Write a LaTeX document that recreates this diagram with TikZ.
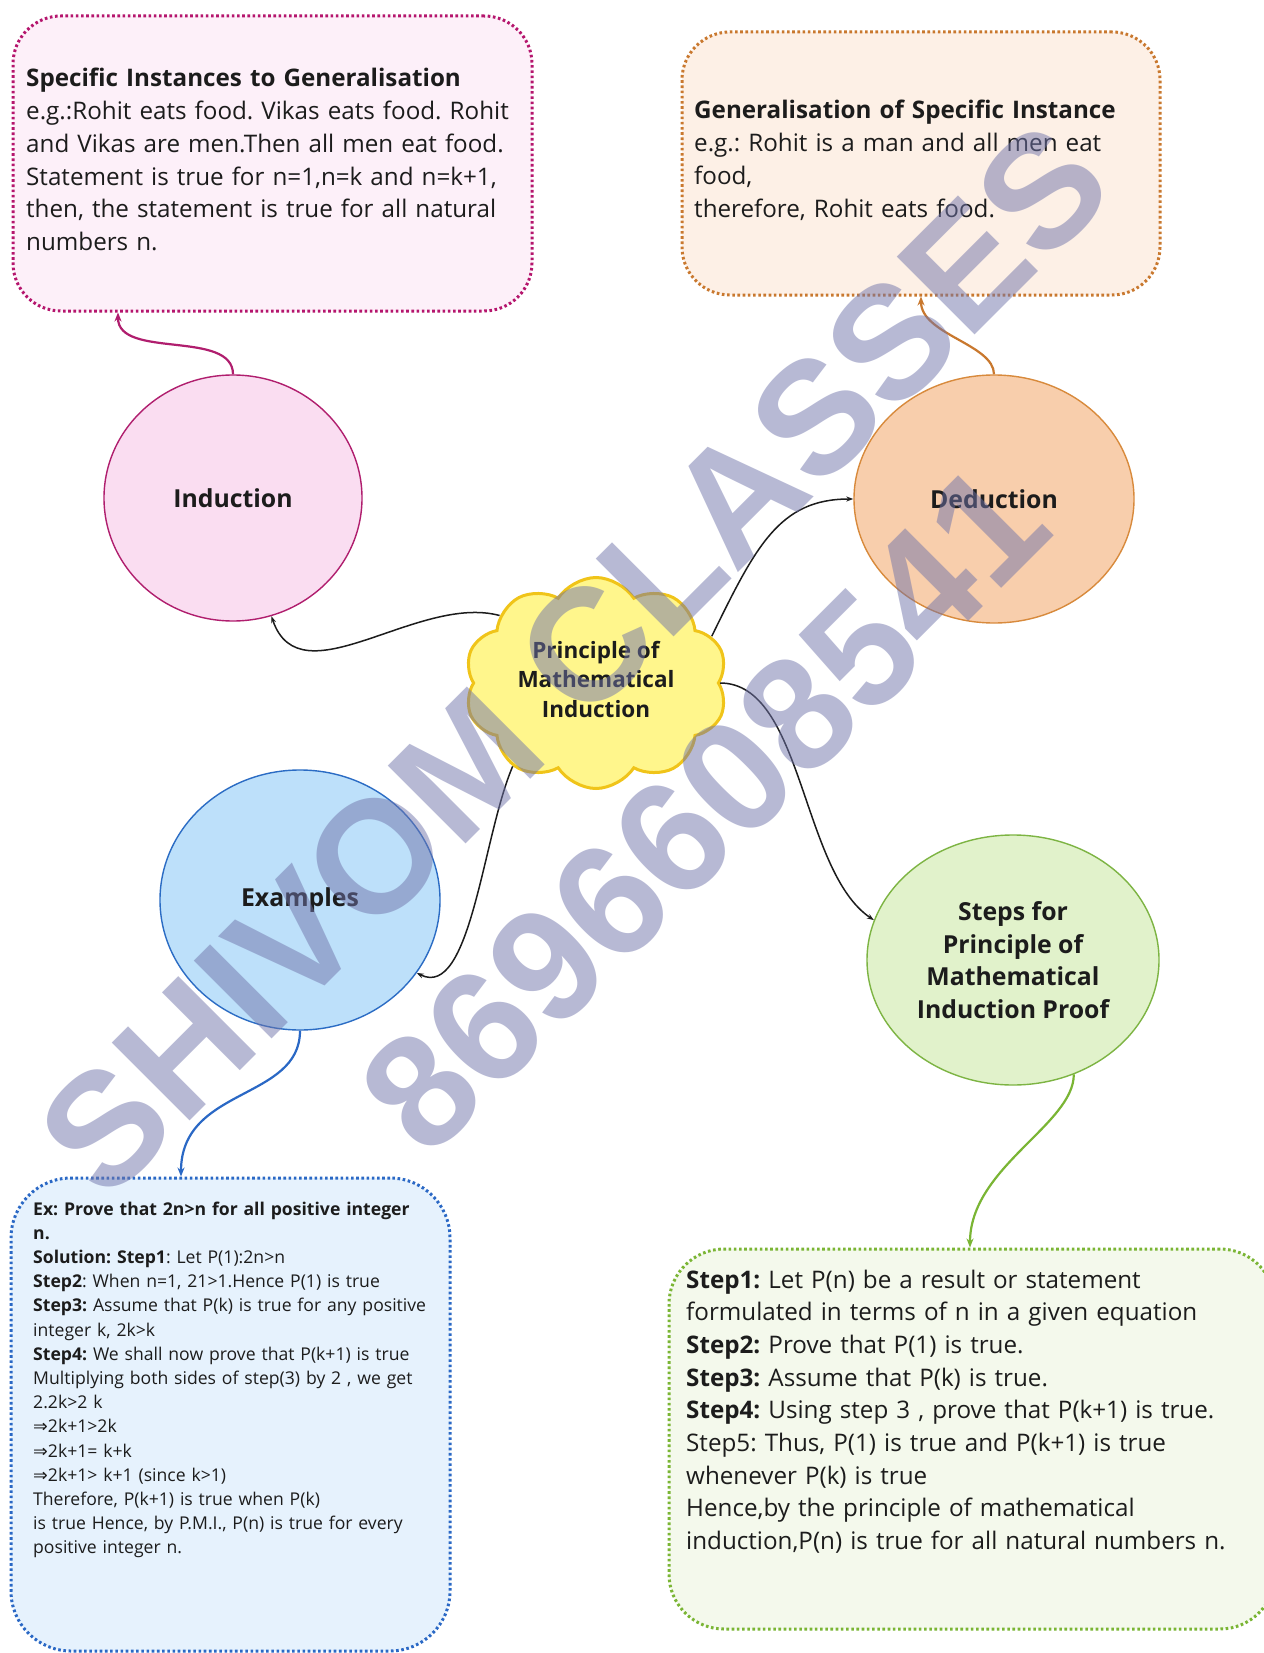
\documentclass[tikz,border=0pt]{standalone}
\usepackage{fontspec}
\setmainfont{Open Sans}
\newfontfamily\wmfont{Liberation Sans}
\newfontfamily\symfont{DejaVu Sans}
\frenchspacing
\usetikzlibrary{shapes.geometric,shapes.symbols,arrows.meta}
\definecolor{ink}{HTML}{1C1C1C}
\definecolor{pinkfill}{HTML}{FDF0F9}
\definecolor{pinkline}{HTML}{B5156D}
\definecolor{indfill}{HTML}{FADDF1}
\definecolor{indline}{HTML}{B01E6E}
\definecolor{orfill}{HTML}{FDF0E6}
\definecolor{orline}{HTML}{C9782E}
\definecolor{dedfill}{HTML}{F8CEAC}
\definecolor{dedline}{HTML}{D88A3C}
\definecolor{cloudfill}{HTML}{FFF68C}
\definecolor{cloudline}{HTML}{F0C419}
\definecolor{exfill}{HTML}{BDE0FA}
\definecolor{exline}{HTML}{2B6CC4}
\definecolor{bluefill}{HTML}{E6F2FD}
\definecolor{blueline}{HTML}{2A68C5}
\definecolor{stfill}{HTML}{E1F2CB}
\definecolor{stline}{HTML}{7DB443}
\definecolor{grfill}{HTML}{F4F9EC}
\definecolor{grline}{HTML}{7AB534}
\definecolor{wmcol}{RGB}{112,116,170}
\begin{document}
\begin{tikzpicture}[x=1pt,y=-1pt,
  dotbox/.style={draw, rectangle, rounded corners=48pt, line width=3pt,
    dash pattern=on 2.6pt off 2.6pt, inner sep=0pt},
  bubble/.style={ellipse, draw, line width=1.4pt, inner sep=0pt, align=center,
    text=ink, font={\bfseries\fontsize{24.8}{32.7}\selectfont}},
  bigtxt/.style={anchor=base west, align=left, text width=620pt, inner sep=0pt,
    text=ink, font={\fontsize{24.2}{32.7}\selectfont}},
  smalltxt/.style={anchor=base west, align=left, text width=440pt, inner sep=0pt,
    text=ink, font={\fontsize{17.6}{24.2}\selectfont}},
  conn/.style={line width=2.2pt, -{Stealth[length=9pt,width=7pt]}},
  bconn/.style={line width=1.5pt, draw=ink, -{Stealth[length=7pt,width=5pt]}},
  wmark/.style={rotate=45, text=wmcol, opacity=0.5, inner sep=0pt,
    font={\wmfont\bfseries\fontsize{160}{160}\selectfont}}
]
\fill[white] (0,0) rectangle (1263,1653);
\useasboundingbox (0,0) rectangle (1263,1653);

% boxes
\node[dotbox, fill=pinkfill, draw=pinkline, minimum width=519pt, minimum height=295pt] (pbox) at (272.5,163.5) {};
\node[dotbox, fill=orfill, draw=orline, minimum width=478pt, minimum height=263pt] (obox) at (921,163.5) {};
\node[dotbox, fill=bluefill, draw=blueline, rounded corners=60pt, minimum width=439pt, minimum height=473pt] (bbox) at (230.5,1414.5) {};
\node[dotbox, fill=grfill, draw=grline, rounded corners=55pt, minimum width=606pt, minimum height=380pt] (gbox) at (972,1439) {};

% box texts
\node[bigtxt] (ptext) at (26,87) {\textbf{Specific Instances to Generalisation}\\
e.g.:Rohit eats food. Vikas eats food. Rohit\\
and Vikas are men.Then all men eat food.\\
Statement is true for n=1,n=k and n=k+1,\\
then, the statement is true for all natural\\
numbers n.};
\node[bigtxt] (otext) at (694,119) {\textbf{Generalisation of Specific Instance}\\
e.g.: Rohit is a man and all men eat\\
food,\\
therefore, Rohit eats food.};
\node[smalltxt] (btext) at (33,1215) {\textbf{Ex: Prove that 2n>n for all positive integer}\\
\textbf{n.}\\
\textbf{Solution: Step1}: Let P(1):2n>n\\
\textbf{Step2}: When n=1, 21>1.Hence P(1) is true\\
\textbf{Step3:} Assume that P(k) is true for any positive\\
integer k, 2k>k\\
\textbf{Step4:} We shall now prove that P(k+1) is true\\
Multiplying both sides of step(3) by 2 , we get\\
2.2k>2 k\\
{\symfont ⇒}2k+1>2k\\
{\symfont ⇒}2k+1= k+k\\
{\symfont ⇒}2k+1> k+1 (since k>1)\\
Therefore, P(k+1) is true when P(k)\\
is true Hence, by P.M.I., P(n) is true for every\\
positive integer n.};
\node[bigtxt] (gtext) at (686,1288) {\textbf{Step1:} Let P(n) be a result or statement\\
formulated in terms of n in a given equation\\
\textbf{Step2:} Prove that P(1) is true.\\
\textbf{Step3:} Assume that P(k) is true.\\
\textbf{Step4:} Using step 3 , prove that P(k+1) is true.\\
Step5: Thus, P(1) is true and P(k+1) is true\\
whenever P(k) is true\\
Hence,by the principle of mathematical\\
induction,P(n) is true for all natural numbers n.};

% bubbles
\node[bubble, fill=indfill, draw=indline, minimum width=258pt, minimum height=246pt] (ind) at (233,498) {Induction};
\node[bubble, fill=dedfill, draw=dedline, minimum width=280pt, minimum height=248pt] (ded) at (994,499) {Deduction};
\node[bubble, fill=exfill, draw=exline, minimum width=280pt, minimum height=260pt] (ex) at (300,900) {Examples};
\node[bubble, fill=stfill, draw=stline, minimum width=292pt, minimum height=250pt] (steps) at (1013,960) {Steps for\\Principle of\\Mathematical\\Induction Proof};
\node[cloud, cloud puffs=10, cloud puff arc=115, aspect=1.25, draw=cloudline, fill=cloudfill,
  line width=3pt, inner sep=0pt, minimum width=263pt, minimum height=211pt] (pmi) at (596,683) {};
\node[align=center, inner sep=0pt, text=ink, font={\bfseries\fontsize{22.5}{29.5}\selectfont}] (pmitext) at (596,679) {Principle of\\Mathematical\\Induction};

% connectors
\draw[conn, draw=indline] (ind.north) .. controls +(0,-45) and +(0,47) .. ([xshift=-154.5pt]pbox.south);
\draw[conn, draw=orline] (ded.north) .. controls +(0,-30) and +(0,38) .. (obox.south);
\draw[conn, draw=blueline] (ex.south) .. controls +(0,70) and +(0,-90) .. ([xshift=-49.5pt]bbox.north);
\draw[conn, draw=grline] (steps.-62) .. controls +(0,50) and +(0,-80) .. ([xshift=-2pt]gbox.north);
\draw[bconn] (pmi.145) .. controls +(-82,-22) and +(29,85) .. (ind.-72);
\draw[bconn] (pmi.22) .. controls +(44,-90) and +(-74,0) .. (ded.west);
\draw[bconn] (pmi.-135) .. controls +(-30,70) and +(54,27) .. (ex.-32);
\draw[bconn] (pmi.east) .. controls +(83,0) and +(-73,-49) .. (steps.164);

% watermark
\node[wmark] (wm1) at (574,659) {SHIVOM CLASSES};
\node[wmark] (wm2) at (704,808) {8696608541};
\end{tikzpicture}
\end{document}
